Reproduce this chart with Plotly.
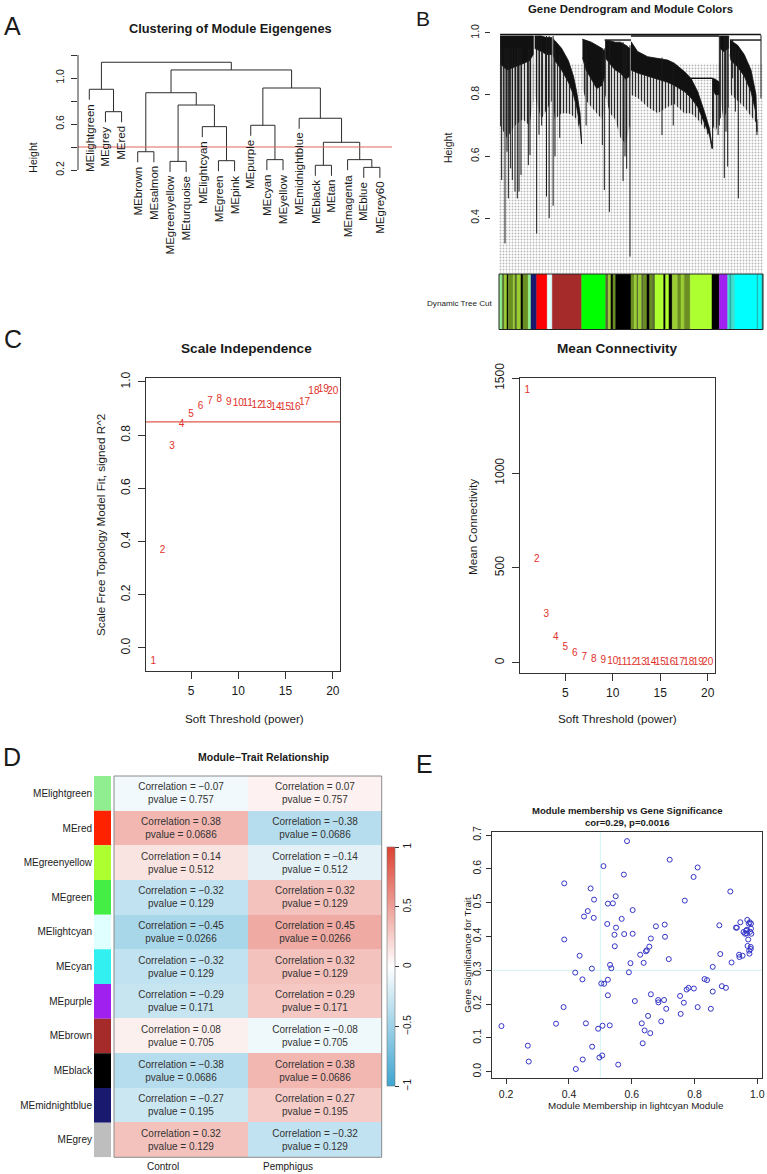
import plotly.graph_objects as go

W, H = 767, 1174
FONT = "Liberation Sans, Arial, Helvetica, sans-serif"
INK = "#1a1a1a"
AXC = "#333333"

# ---------------- Panel A: eigengene clustering ----------------
A_LEAVES = ["MElightgreen", "MEgrey", "MEred", "MEbrown", "MEsalmon", "MEgreenyellow",
            "MEturquoise", "MElightcyan", "MEgreen", "MEpink", "MEpurple", "MEcyan",
            "MEyellow", "MEmidnightblue", "MEblack", "MEtan", "MEmagenta", "MEblue", "MEgrey60"]
# hclust-style merges: negative = leaf (1-based, plotting order), positive = earlier merge
A_MERGE_A = [-2, -1, -4, -6, -9, -8, 4, 3, -12, -11, -15, -18, -17, 11, -14, 10, 8, 2]
A_MERGE_B = [-3, 1, -5, -7, -10, 5, 6, 7, -13, 9, -16, -19, 12, 13, 14, 15, 16, 17]
A_MERGE_H = [0.707, 0.902, 0.359, 0.275, 0.281, 0.577, 0.765, 0.872, 0.290, 0.589,
             0.241, 0.223, 0.290, 0.441, 0.650, 0.913, 1.070, 1.137]
A_CUT = 0.4
A_TICKS = [0.2, 0.4, 0.6, 0.8, 1.0, 1.2]
A_TICKTEXT = ["0.2", "", "0.6", "", "1.0", ""]

# ---------------- Panel B: gene dendrogram (gene-order fraction) ----
B_CL_F = [
    [0.004, 0.03, 0.06, 0.09, 0.115, 0.13],
    [0.135, 0.16, 0.18, 0.20],
    [0.206, 0.212, 0.237, 0.263, 0.282, 0.294, 0.307, 0.313],
    [0.316, 0.33, 0.35, 0.37, 0.39, 0.40],
    [0.402, 0.42, 0.44, 0.46, 0.48, 0.495],
    [0.50, 0.525, 0.563, 0.601, 0.639, 0.664, 0.702, 0.727, 0.7525, 0.778, 0.797, 0.807],
    [0.809, 0.82, 0.835],
    [0.837, 0.85, 0.87],
    [0.875, 0.879, 0.904, 0.929, 0.9545, 0.9735, 0.9773],
]
B_CL_TOP = [
    [0.99, 0.99, 0.99, 0.99, 0.99, 0.99],
    [0.99, 0.99, 0.985, 0.985],
    [0.98, 0.975, 0.95, 0.91, 0.86, 0.81, 0.74, 0.66],
    [0.98, 0.975, 0.97, 0.96, 0.95, 0.94],
    [0.975, 0.975, 0.97, 0.97, 0.96, 0.95],
    [0.972, 0.94, 0.923, 0.918, 0.912, 0.902, 0.875, 0.853, 0.81, 0.745, 0.691, 0.632],
    [0.853, 0.85, 0.84],
    [0.99, 0.99, 0.99],
    [0.977, 0.975, 0.96, 0.93, 0.88, 0.80, 0.72],
]
B_CL_DENSE = [
    [0.90, 0.88, 0.89, 0.90, 0.91, 0.93],
    [0.95, 0.94, 0.93, 0.93],
    [0.93, 0.91, 0.88, 0.84, 0.80, 0.76, 0.70, 0.64],
    [0.92, 0.88, 0.85, 0.82, 0.83, 0.86],
    [0.92, 0.90, 0.88, 0.87, 0.85, 0.86],
    [0.88, 0.87, 0.86, 0.85, 0.84, 0.83, 0.81, 0.79, 0.76, 0.71, 0.67, 0.625],
    [0.82, 0.80, 0.80],
    [0.95, 0.94, 0.95],
    [0.93, 0.91, 0.89, 0.86, 0.81, 0.74, 0.68],
]
B_CL_HAIR = [
    [0.70, 0.66, 0.70, 0.72, 0.70, 0.78],
    [0.80, 0.72, 0.75, 0.78],
    [0.76, 0.72, 0.74, 0.74, 0.73, 0.72, 0.68, 0.64],
    [0.82, 0.78, 0.76, 0.74, 0.72, 0.76],
    [0.80, 0.74, 0.72, 0.66, 0.64, 0.70],
    [0.80, 0.79, 0.76, 0.74, 0.76, 0.77, 0.74, 0.74, 0.72, 0.69, 0.66, 0.625],
    [0.70, 0.68, 0.72],
    [0.80, 0.72, 0.76],
    [0.82, 0.80, 0.78, 0.76, 0.73, 0.71, 0.68],
]
B_SPIKE_F = [0.0101, 0.0227, 0.0303, 0.0354, 0.0442, 0.0505, 0.0606, 0.0694, 0.0758, 0.0833,
             0.1111, 0.1174, 0.1427, 0.1515, 0.1616, 0.18, 0.19, 0.205, 0.2121, 0.23,
             0.33, 0.3914, 0.399, 0.418, 0.47, 0.4773, 0.4836, 0.4962, 0.6174, 0.66,
             0.809, 0.83, 0.8346, 0.8384, 0.8535, 0.8598, 0.8662, 0.8851, 0.8952, 0.9066,
             0.9924, 0.977]
B_SPIKE_TOP = [0.95, 0.95, 0.95, 0.95, 0.95, 0.95, 0.95, 0.95, 0.95, 0.95,
               0.95, 0.95, 0.99, 0.99, 0.99, 0.99, 0.99, 0.99, 0.95, 0.93,
               0.97, 0.95, 0.95, 0.975, 0.97, 0.96, 0.96, 0.96, 0.92, 0.90,
               0.853, 0.84, 0.99, 0.99, 0.99, 0.99, 0.99, 0.977, 0.96, 0.95,
               0.993, 0.72]
B_SPIKE_BOT = [0.5235, 0.318, 0.615, 0.464, 0.561, 0.5235, 0.486, 0.464, 0.486, 0.54,
               0.572, 0.6045, 0.35, 0.67, 0.70, 0.47, 0.40, 0.44, 0.60, 0.66,
               0.70, 0.637, 0.491, 0.42, 0.52, 0.60, 0.56, 0.275, 0.669, 0.70,
               0.625, 0.669, 0.70, 0.7234, 0.53, 0.68, 0.567, 0.853, 0.745, 0.464,
               0.788, 0.669]
B_MERGE_F0 = [0.004, 0.40, 0.875, 0.50, 0.727]
B_MERGE_F1 = [0.992, 0.50, 0.992, 0.835, 0.809]
B_MERGE_H = [0.995, 0.977, 0.977, 0.99, 0.853]
B_TICKS = [0.4, 0.6, 0.8, 1.0]
B_TICKTEXT = ["0.4", "0.6", "0.8", "1.0"]

# Dynamic Tree Cut colour strip: segment edges (gene-order fraction) and colours
B_SEG_EDGES = [0.0, 0.0125, 0.0201, 0.0303, 0.0352, 0.0542, 0.0606, 0.0682, 0.0833, 0.0909,
               0.1110, 0.1212, 0.1428, 0.1830, 0.2019, 0.3133, 0.4042, 0.4140, 0.4242, 0.4318,
               0.4420, 0.5, 0.5125, 0.5227, 0.5277, 0.5405, 0.5481, 0.5606, 0.5708, 0.5807,
               0.5909, 0.6239, 0.6314, 0.6439, 0.6564, 0.6769, 0.6894, 0.7019, 0.7246, 0.8068,
               0.8345, 0.8663, 0.8739, 0.8814, 0.8939, 0.9773, 0.9822, 0.9951, 1.0]
B_SEG_COLORS = ["#90EE90", "#556B2F", "#9ACD32", "#000000", "#6B8E23", "#9ACD32", "#556B2F",
                "#9ACD32", "#000000", "#6B8E23", "#90EE90", "#191970", "#FF0000", "#E0FFFF",
                "#A52A2A", "#00FF00", "#556B2F", "#9ACD32", "#000000", "#6B8E23", "#000000",
                "#6B8E23", "#9ACD32", "#556B2F", "#9ACD32", "#556B2F", "#6B8E23", "#000000",
                "#6B8E23", "#556B2F", "#ADFF2F", "#000000", "#ADFF2F", "#000000", "#9ACD32",
                "#6B8E23", "#9ACD32", "#6B8E23", "#ADFF2F", "#000000", "#A020F0", "#40E0D0",
                "#20B2AA", "#40E0D0", "#00FFFF", "#20B2AA", "#00FFFF", "#20B2AA"]

# ---------------- Panel C: soft threshold ----------------
POWERS = [1, 2, 3, 4, 5, 6, 7, 8, 9, 10, 11, 12, 13, 14, 15, 16, 17, 18, 19, 20]
SFT_R2 = [-0.051, 0.368, 0.757, 0.842, 0.878, 0.908, 0.925, 0.933, 0.924, 0.921,
          0.921, 0.912, 0.912, 0.905, 0.905, 0.905, 0.922, 0.965, 0.970, 0.965]
MEAN_K = [1435, 542, 252, 134, 79, 47.5, 28.5, 18, 10.6, 5,
          3, 2, 1.5, 1, 0.8, 0.6, 0.5, 0.4, 0.3, 0.2]
R2_CUT = 0.85

# ---------------- Panel D: module-trait heatmap ----------------
D_MODULES = ["MElightgreen", "MEred", "MEgreenyellow", "MEgreen", "MElightcyan", "MEcyan",
             "MEpurple", "MEbrown", "MEblack", "MEmidnightblue", "MEgrey"]
D_MODULE_COLORS = ["#90EE90", "#FF2200", "#ADFF2F", "#44EE44", "#E0FFFF", "#33F0F0",
                   "#A020F0", "#A52A2A", "#000000", "#191970", "#BEBEBE"]
D_TRAITS = ["Control", "Pemphigus"]
D_COR_CONTROL = [-0.07, 0.38, 0.14, -0.32, -0.45, -0.32, -0.29, 0.08, -0.38, -0.27, 0.32]
D_COR_PEMPH = [0.07, -0.38, -0.14, 0.32, 0.45, 0.32, 0.29, -0.08, 0.38, 0.27, -0.32]
D_PVALUE = [0.757, 0.0686, 0.512, 0.129, 0.0266, 0.129, 0.171, 0.705, 0.0686, 0.195, 0.129]

# ---------------- Panel E: MM vs GS scatter ----------------
E_MM = [0.185, 0.269, 0.272, 0.359, 0.383, 0.385, 0.385, 0.420, 0.422, 0.434, 0.443, 0.444,
        0.448, 0.454, 0.460, 0.469, 0.473, 0.474, 0.479, 0.480, 0.493, 0.497, 0.503, 0.506,
        0.507, 0.510, 0.512, 0.522, 0.524, 0.524, 0.524, 0.530, 0.531, 0.535, 0.540, 0.545,
        0.546, 0.549, 0.550, 0.557, 0.568, 0.575, 0.576, 0.585, 0.591, 0.596, 0.603, 0.603,
        0.610, 0.627, 0.632, 0.635, 0.638, 0.641, 0.645, 0.648, 0.652, 0.656, 0.659, 0.661,
        0.661, 0.677, 0.684, 0.685, 0.694, 0.703, 0.705, 0.706, 0.710, 0.718, 0.721, 0.754,
        0.756, 0.766, 0.769, 0.775, 0.781, 0.797, 0.798, 0.810, 0.810, 0.832, 0.840, 0.852,
        0.858, 0.858, 0.879, 0.882, 0.887, 0.900, 0.914, 0.918, 0.932, 0.935, 0.942, 0.943,
        0.946, 0.953, 0.956, 0.961, 0.964, 0.967, 0.968, 0.969, 0.971, 0.973, 0.974, 0.975,
        0.976, 0.977, 0.979, 0.980, 0.980, 0.981, 0.966, 0.979]
E_GS = [0.135, 0.077, 0.030, 0.142, 0.191, 0.557, 0.391, 0.293, 0.008, 0.343, 0.273, 0.036,
        0.459, 0.143, 0.475, 0.542, 0.305, 0.074, 0.455, 0.509, 0.127, 0.042, 0.261, 0.048,
        0.136, 0.608, 0.260, 0.437, 0.497, 0.272, 0.226, 0.137, 0.316, 0.306, 0.498, 0.405,
        0.371, 0.519, 0.426, 0.021, 0.452, 0.583, 0.407, 0.682, 0.294, 0.321, 0.478, 0.408,
        0.209, 0.346, 0.143, 0.084, 0.322, 0.122, 0.356, 0.359, 0.165, 0.370, 0.114, 0.394,
        0.229, 0.430, 0.212, 0.205, 0.149, 0.212, 0.435, 0.399, 0.186, 0.333, 0.627, 0.224,
        0.171, 0.204, 0.506, 0.243, 0.248, 0.576, 0.246, 0.604, 0.191, 0.274, 0.271, 0.186,
        0.310, 0.237, 0.433, 0.348, 0.253, 0.248, 0.533, 0.323, 0.426, 0.426, 0.346, 0.339,
        0.442, 0.343, 0.413, 0.408, 0.417, 0.420, 0.449, 0.372, 0.391, 0.438, 0.358, 0.349,
        0.442, 0.414, 0.363, 0.438, 0.423, 0.408, 0.409, 0.369]
E_MM_LINE = 0.5
E_GS_LINE = 0.3


# ================= helpers =================
def dx(p0, p1):
    return [p0 / W, p1 / W]


def dy(top, bottom):
    return [1 - bottom / H, 1 - top / H]


annotations = []


def ann(text, xp, yp, size, bold=False, angle=0, xanchor="center", yanchor="middle", color=INK):
    if bold:
        text = "<b>" + text + "</b>"
    annotations.append(dict(text=text, x=xp / W, y=1 - yp / H, xref="paper", yref="paper",
                            showarrow=False, textangle=angle, xanchor=xanchor, yanchor=yanchor,
                            font=dict(size=size, color=color, family=FONT)))


fig = go.Figure()
shapes = []

# ================= Panel A =================
hang = 0.1 * (max(A_MERGE_H) - min(A_MERGE_H))
node_x = {}
leaf_bottom = {}
sx, sy = [], []
for k, (a, b, h) in enumerate(zip(A_MERGE_A, A_MERGE_B, A_MERGE_H), start=1):
    pts = []
    for c in (a, b):
        if c < 0:
            cx, cy = -c, h - hang
            leaf_bottom[-c] = cy
        else:
            cx, cy = node_x[c], A_MERGE_H[c - 1]
        pts.append((cx, cy))
    (x1, y1), (x2, y2) = pts
    sx += [x1, x1, x2, x2, None]
    sy += [y1, h, h, y2, None]
    node_x[k] = (x1 + x2) / 2
fig.add_trace(go.Scatter(x=sx, y=sy, mode="lines", line=dict(color="#2b2b2b", width=1),
                         xaxis="x", yaxis="y", hoverinfo="skip"))
shapes.append(dict(type="line", xref="x domain", yref="y", x0=0, x1=1, y0=A_CUT, y1=A_CUT,
                   line=dict(color="#E2675C", width=1)))
shapes.append(dict(type="line", xref="x domain", yref="y", x0=0, x1=0, y0=A_TICKS[0], y1=A_TICKS[-1],
                   line=dict(color=AXC, width=1)))
for i, name in enumerate(A_LEAVES, start=1):
    annotations.append(dict(text=name, x=i, y=leaf_bottom[i], xref="x", yref="y", showarrow=False,
                            textangle=-90, xanchor="center", yanchor="top", yshift=-2,
                            font=dict(size=11.5, color=INK, family=FONT)))

# ================= Panel B =================
fig.add_trace(go.Scatter(x=[0, 1, 1, 0, 0], y=[0.224, 0.224, 0.90, 0.90, 0.224], mode="lines",
                         line=dict(width=0), fill="toself", fillcolor="rgba(0,0,0,0)",
                         fillpattern=dict(shape=".", fgcolor="#B8B8B8", size=3, solidity=0.3),
                         xaxis="x2", yaxis="y2", hoverinfo="skip"))
for f, top, dense, hair in zip(B_CL_F, B_CL_TOP, B_CL_DENSE, B_CL_HAIR):
    fig.add_trace(go.Scatter(x=f + f[::-1], y=dense + hair[::-1], mode="lines", line=dict(width=0),
                             fill="toself", fillcolor="rgba(0,0,0,0)",
                             fillpattern=dict(shape="|", fgcolor="#2a2a2a", size=3, solidity=0.45),
                             xaxis="x2", yaxis="y2", hoverinfo="skip"))
    fig.add_trace(go.Scatter(x=f + f[::-1], y=top + dense[::-1], mode="lines",
                             line=dict(width=0.8, color="#111111"), fill="toself", fillcolor="#111111",
                             xaxis="x2", yaxis="y2", hoverinfo="skip"))
spx, spy = [], []
for f, t, b in zip(B_SPIKE_F, B_SPIKE_TOP, B_SPIKE_BOT):
    spx += [f, f, None]
    spy += [t, b, None]
fig.add_trace(go.Scatter(x=spx, y=spy, mode="lines", line=dict(color="#1a1a1a", width=1),
                         xaxis="x2", yaxis="y2", hoverinfo="skip"))
mx, my = [], []
for f0, f1, h in zip(B_MERGE_F0, B_MERGE_F1, B_MERGE_H):
    mx += [f0, f1, None]
    my += [h, h, None]
fig.add_trace(go.Scatter(x=mx, y=my, mode="lines", line=dict(color="#111111", width=1.4),
                         xaxis="x2", yaxis="y2", hoverinfo="skip"))
centers = [(a + b) / 2 for a, b in zip(B_SEG_EDGES[:-1], B_SEG_EDGES[1:])]
widths = [b - a for a, b in zip(B_SEG_EDGES[:-1], B_SEG_EDGES[1:])]
fig.add_trace(go.Bar(x=centers, y=[1] * len(centers), width=widths, base=0,
                     marker=dict(color=B_SEG_COLORS, line=dict(color=B_SEG_COLORS, width=0.5)),
                     xaxis="x3", yaxis="y3", hoverinfo="skip"))
shapes.append(dict(type="rect", xref="x3 domain", yref="y3 domain", x0=0, x1=1, y0=0, y1=1,
                   line=dict(color="#222222", width=1)))

# ================= Panel C =================
fig.add_trace(go.Scatter(x=POWERS, y=SFT_R2, mode="text", text=[str(p) for p in POWERS],
                         textfont=dict(color="#E0302A", size=10, family=FONT),
                         xaxis="x4", yaxis="y4", hoverinfo="skip", cliponaxis=False))
shapes.append(dict(type="line", xref="x4 domain", yref="y4", x0=0, x1=1, y0=R2_CUT, y1=R2_CUT,
                   line=dict(color="#E05A4E", width=1.3)))
fig.add_trace(go.Scatter(x=POWERS, y=MEAN_K, mode="text", text=[str(p) for p in POWERS],
                         textfont=dict(color="#E0302A", size=10, family=FONT),
                         xaxis="x5", yaxis="y5", hoverinfo="skip", cliponaxis=False))

# ================= Panel D =================
z = [[c, p] for c, p in zip(D_COR_CONTROL, D_COR_PEMPH)]


def fmt(v):
    return f"{v:.2f}".replace("-", "\u2212")


txt = [[f"Correlation = {fmt(c)}<br>pvalue = {pv:g}", f"Correlation = {fmt(p)}<br>pvalue = {pv:g}"]
       for c, p, pv in zip(D_COR_CONTROL, D_COR_PEMPH, D_PVALUE)]
fig.add_trace(go.Heatmap(
    z=z, x=[0, 1], y=list(range(len(D_MODULES))), text=txt, texttemplate="%{text}",
    textfont=dict(size=10, color="#333333", family=FONT), zmin=-1, zmax=1,
    colorscale=[[0, "#3DA5D0"], [0.5, "#FFFFFF"], [1, "#DC4132"]],
    xaxis="x6", yaxis="y6", hoverinfo="skip",
    colorbar=dict(x=387.3 / W, xanchor="left", y=1 - 966.7 / H, yanchor="middle",
                  len=(1086 - 847.3) / H, lenmode="fraction", thickness=7.7, thicknessmode="pixels",
                  outlinewidth=0.6, outlinecolor="#777777", xpad=0, ypad=0,
                  tickvals=[-1, -0.5, 0, 0.5, 1], ticktext=["\u22121", "\u22120.5", "0", "0.5", "1"],
                  ticks="outside", ticklen=4, tickcolor=AXC, tickangle=-90,
                  tickfont=dict(size=10, color=INK, family=FONT))))
shapes.append(dict(type="rect", xref="x6 domain", yref="y6 domain", x0=0, x1=1, y0=0, y1=1,
                   line=dict(color="#8a8a8a", width=1)))
fig.add_trace(go.Bar(y=list(range(len(D_MODULES))), x=[1] * len(D_MODULES), base=0, width=1,
                     orientation="h", marker=dict(color=D_MODULE_COLORS, line=dict(width=0)),
                     xaxis="x7", yaxis="y7", hoverinfo="skip"))
for i, t in enumerate(D_TRAITS):
    annotations.append(dict(text=t, x=i, y=1 - 1166.5 / H, xref="x6", yref="paper", showarrow=False,
                            xanchor="right", yanchor="middle",
                            font=dict(size=10, color=INK, family=FONT)))

# ================= Panel E =================
shapes.append(dict(type="line", xref="x8", yref="y8 domain", x0=E_MM_LINE, x1=E_MM_LINE, y0=0, y1=1,
                   line=dict(color="#D2F4F4", width=1), layer="below"))
shapes.append(dict(type="line", xref="x8 domain", yref="y8", x0=0, x1=1, y0=E_GS_LINE, y1=E_GS_LINE,
                   line=dict(color="#D2F4F4", width=1), layer="below"))
fig.add_trace(go.Scatter(x=E_MM, y=E_GS, mode="markers",
                         marker=dict(symbol="circle-open", size=5, color="#3434C8", line=dict(width=1)),
                         xaxis="x8", yaxis="y8", hoverinfo="skip"))

# ================= axes =================
hid = dict(visible=False, showgrid=False, zeroline=False, fixedrange=True, automargin=False)
tick_common = dict(ticks="outside", tickcolor=AXC, tickwidth=1, showgrid=False, zeroline=False,
                   automargin=False)
box = dict(showline=True, mirror=True, linecolor=AXC, linewidth=1)

layout = dict(
    template="none",
    width=W, height=H, autosize=False,
    margin=dict(l=0, r=0, t=0, b=0, pad=0, autoexpand=False),
    paper_bgcolor="white", plot_bgcolor="white",
    showlegend=False, font=dict(family=FONT, color=INK),
    xaxis=dict(domain=dx(78, 392), range=[0.3, 19.75], anchor="y", **hid),
    yaxis=dict(domain=dy(50, 260), range=[-0.5826, 1.2435], anchor="x", showline=False,
               tickvals=A_TICKS, ticktext=A_TICKTEXT, tickangle=-90, ticklen=6,
               tickfont=dict(size=10.5), ticklabelstandoff=3, **tick_common),
    xaxis2=dict(domain=dx(499, 763), range=[0, 1], anchor="y2", **hid),
    yaxis2=dict(domain=dy(28, 273), range=[0.222, 1.016], anchor="free", position=490 / W,
                showline=False, tickvals=B_TICKS, ticktext=B_TICKTEXT, tickangle=-90, ticklen=5,
                tickfont=dict(size=10.5), ticklabelstandoff=2, **tick_common),
    xaxis3=dict(domain=dx(499, 763), range=[0, 1], anchor="y3", **hid),
    yaxis3=dict(domain=dy(274, 329.5), range=[0, 1], anchor="x3", **hid),
    xaxis4=dict(domain=dx(146, 340), range=[0.24, 20.76], anchor="y4", tickvals=[5, 10, 15, 20],
                ticklen=7, tickfont=dict(size=12), ticklabelstandoff=2, **box, **tick_common),
    yaxis4=dict(domain=dy(378, 671), range=[-0.0865, 1.015], anchor="x4",
                tickvals=[0, 0.2, 0.4, 0.6, 0.8, 1.0], ticktext=["0.0", "0.2", "0.4", "0.6", "0.8", "1.0"],
                tickangle=-90, ticklen=7, tickfont=dict(size=12), ticklabelstandoff=3, **box, **tick_common),
    xaxis5=dict(domain=dx(520, 715), range=[0.24, 20.76], anchor="y5", tickvals=[5, 10, 15, 20],
                ticklen=7, tickfont=dict(size=12), ticklabelstandoff=2, **box, **tick_common),
    yaxis5=dict(domain=dy(378, 673), range=[-54.3, 1501.6], anchor="x5",
                tickvals=[0, 500, 1000, 1500], ticktext=["0", "500", "1000", "1500"],
                tickangle=-90, ticklen=7, tickfont=dict(size=12), ticklabelstandoff=3, **box, **tick_common),
    xaxis6=dict(domain=dx(114, 381.7), range=[-0.5, 1.5], anchor="y6", **hid),
    yaxis6=dict(domain=dy(776, 1157.3), range=[10.5, -0.5], anchor="x6", **hid),
    xaxis7=dict(domain=dx(94, 111), range=[0, 1], anchor="y7", **hid),
    yaxis7=dict(domain=dy(776, 1157.3), range=[10.5, -0.5], anchor="x7", showline=False, showgrid=False,
                zeroline=False, tickvals=list(range(len(D_MODULES))), ticktext=D_MODULES, ticks="",
                tickfont=dict(size=10, color="#222222"), ticklabelstandoff=1, automargin=False),
    xaxis8=dict(domain=dx(491.7, 761.7), range=[0.154, 1.014], anchor="y8",
                tickvals=[0.2, 0.4, 0.6, 0.8, 1.0], ticktext=["0.2", "0.4", "0.6", "0.8", "1.0"],
                ticklen=5, tickfont=dict(size=10.5), ticklabelstandoff=1, **box, **tick_common),
    yaxis8=dict(domain=dy(831.7, 1078.3), range=[-0.0195, 0.7098], anchor="x8",
                tickvals=[0, 0.1, 0.2, 0.3, 0.4, 0.5, 0.6, 0.7],
                ticktext=["0.0", "0.1", "0.2", "0.3", "0.4", "0.5", "0.6", "0.7"],
                tickangle=-90, ticklen=5, tickfont=dict(size=10.5), ticklabelstandoff=1, **box, **tick_common),
)

# ================= text =================
ann("A", 12, 26, 25)
ann("B", 423, 19, 21)
ann("C", 13, 339, 25)
ann("D", 12, 757, 25)
ann("E", 424, 764, 25)
ann("Clustering of Module Eigengenes", 230, 28, 12.8, bold=True)
ann("Height", 32.7, 158, 10.5, angle=-90)
ann("Gene Dendrogram and Module Colors", 630, 9, 11.4, bold=True)
ann("Height", 448, 148, 10.5, angle=-90)
ann("Dynamic Tree Cut", 495, 303, 8.1, xanchor="right")
ann("Scale Independence", 247, 349, 13.6, bold=True)
ann("Mean Connectivity", 617, 349, 13.6, bold=True)
ann("Scale Free Topology Model Fit, signed R^2", 100, 525, 11.7, angle=-90)
ann("Mean Connectivity", 472, 527, 11.7, angle=-90)
ann("Soft Threshold (power)", 244, 718, 11.7)
ann("Soft Threshold (power)", 617, 718, 11.7)
ann("Module\u2212Trait Relationship", 263, 757, 10.5, bold=True)
ann("Module membership vs Gene Significance", 627, 810, 9.5, bold=True)
ann("cor=0.29, p=0.0016", 627, 822, 9.5, bold=True)
ann("Gene Significance for Trait", 466.7, 955, 9.8, angle=-90)
ann("Module Membership in lightcyan Module", 636, 1105, 9.8)

layout["annotations"] = annotations
layout["shapes"] = shapes
fig.update_layout(**layout)
fig.write_html("out.html", config={"displayModeBar": False},
               post_script="document.body.style.margin='0';document.body.style.padding='0';")
